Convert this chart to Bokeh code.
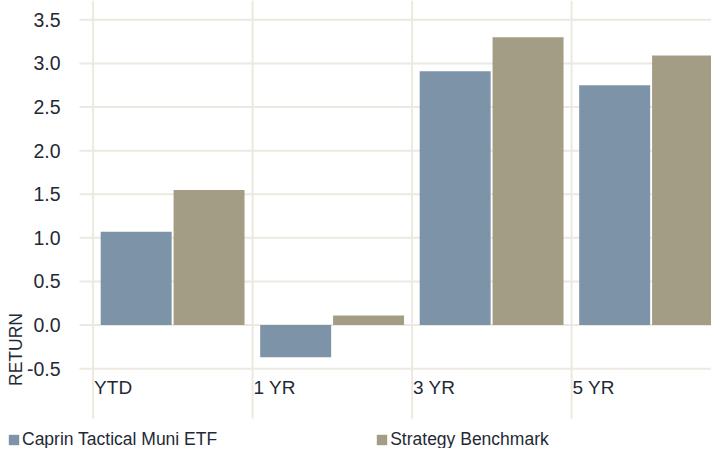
import numpy as np
from bokeh.plotting import figure
from bokeh.models import Range1d, Legend, LegendItem, Label
from bokeh.core.properties import value
from bokeh.embed import file_html
from bokeh.resources import INLINE

# ---- data ----
categories = ["YTD", "1 YR", "3 YR", "5 YR"]
etf_returns = [1.07, -0.37, 2.91, 2.75]
benchmark_returns = [1.55, 0.11, 3.30, 3.09]
y_ticks = [-0.5, 0.0, 0.5, 1.0, 1.5, 2.0, 2.5, 3.0, 3.5]
series_names = ["Caprin Tactical Muni ETF", "Strategy Benchmark"]
axis_title = "RETURN"

# ---- style ----
BLUE = "#7d94a8"
TAN = "#a49d85"
GRID = "#ece9e1"
TEXT = "#1f2a36"
FONT = "Liberation Sans"

W, H = 711, 448
# data window: the plotting frame covers the whole canvas
X0, X1 = -0.5806, 3.8771
Y0, Y1 = -1.4147, 3.7212
GRID_LEFT = -0.0853      # where the horizontal grid lines begin
GRID_BOTTOM = -1.071     # where the vertical grid lines end
YLAB_X = -0.2044         # right edge of value labels

p = figure(width=W, height=H, output_backend="svg", toolbar_location=None,
           x_range=Range1d(X0, X1), y_range=Range1d(Y0, Y1),
           min_border=0, x_axis_type=None, y_axis_type=None)
p.outline_line_color = None
p.background_fill_color = "white"
p.border_fill_color = "white"
p.grid.visible = False

idx = np.arange(len(categories))
n_y = len(y_ticks)

# grid lines
p.segment(x0=GRID_LEFT, x1=X1, y0=y_ticks, y1=y_ticks,
          line_color=GRID, line_width=2)
p.segment(x0=idx, x1=idx, y0=GRID_BOTTOM, y1=Y1,
          line_color=GRID, line_width=2)

# bars
bw = 0.445
r1 = p.vbar(x=idx + 0.27, top=etf_returns, bottom=0, width=bw,
            fill_color=BLUE, line_color=None)
r2 = p.vbar(x=idx + 0.727, top=benchmark_returns, bottom=0, width=bw,
            fill_color=TAN, line_color=None)

# value labels
p.text(x=YLAB_X, y=y_ticks, text=[f"{t:.1f}" for t in y_ticks],
       text_font=value(FONT), text_font_size="19.5px", text_color=TEXT,
       text_align="right", text_baseline="middle")

# category labels at the left edge of each band
p.text(x=idx, y=-0.713, text=categories, text_font=value(FONT),
       text_font_size="19px", text_color=TEXT, text_align="left",
       text_baseline="middle", x_offset=1)

# axis title
p.add_layout(Label(x=-0.4846, y=-0.28, text=axis_title, angle=np.pi / 2,
                   text_font=FONT, text_font_size="17.5px", text_color=TEXT,
                   text_align="center", text_baseline="middle"))

legend = Legend(items=[LegendItem(label=series_names[0], renderers=[r1]),
                       LegendItem(label=series_names[1], renderers=[r2])],
                location=(7, -2), orientation="horizontal",
                padding=0, margin=0, spacing=158, border_line_color=None,
                background_fill_alpha=0, glyph_width=13, glyph_height=13,
                label_standoff=2,
                label_text_font=FONT, label_text_font_size="17.5px",
                label_text_color=TEXT)
p.add_layout(legend, "center")

open("out.html", "w").write(file_html(p, INLINE))
